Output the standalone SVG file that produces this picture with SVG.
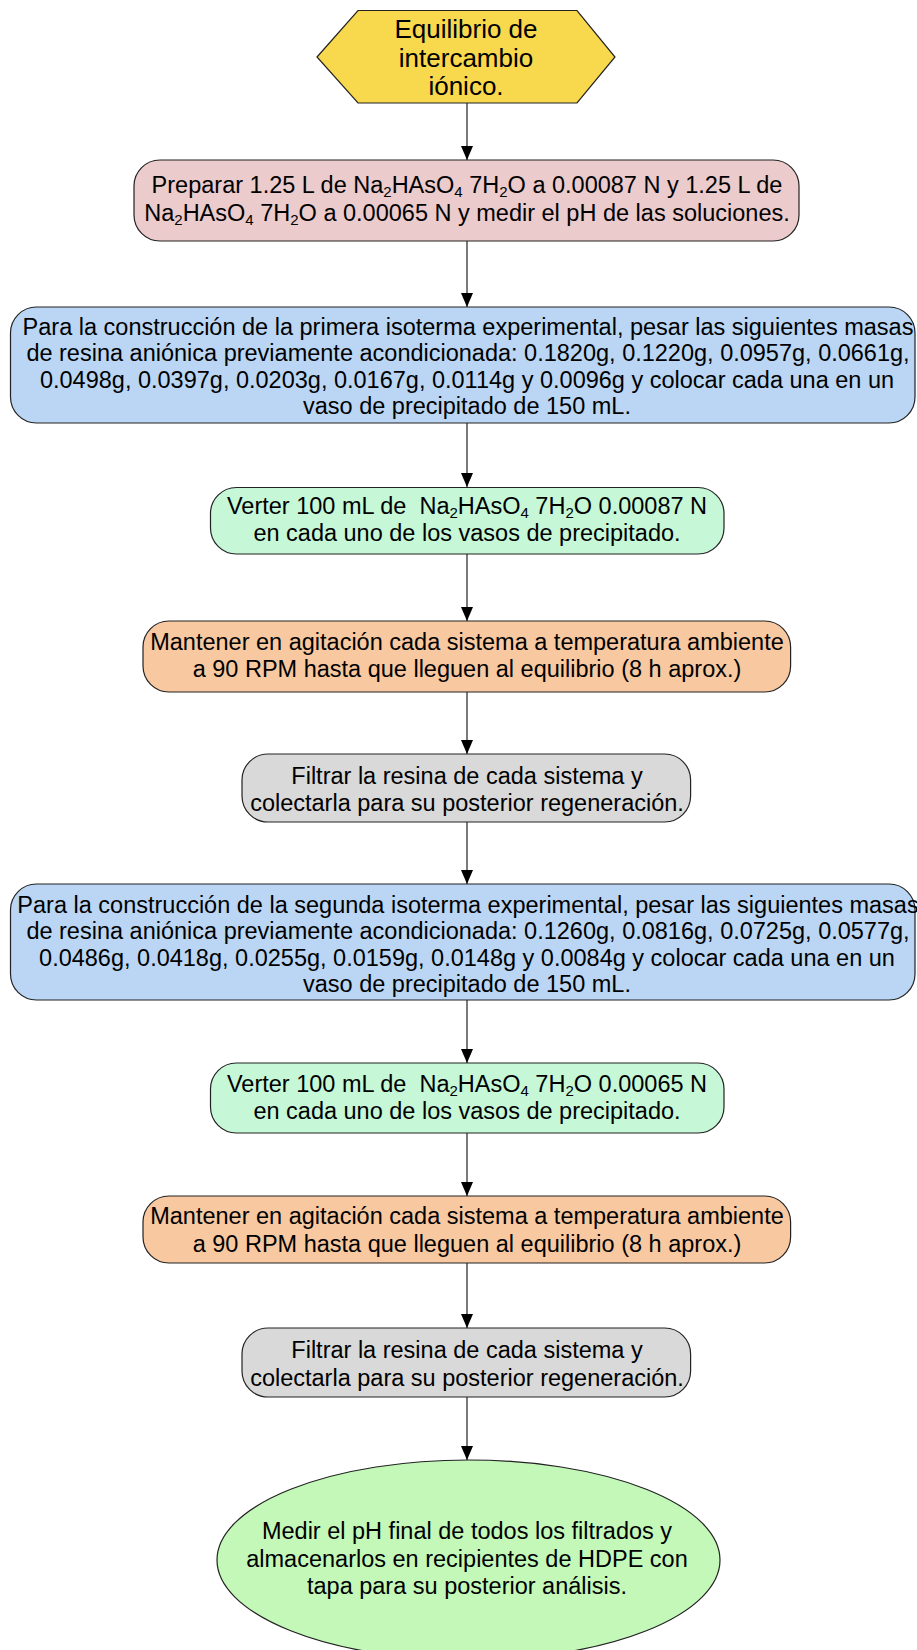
<svg xmlns="http://www.w3.org/2000/svg" width="917" height="1650" viewBox="0 0 917 1650">
<style>
.t{font-family:"Liberation Sans",Arial,sans-serif;font-size:23.5px;fill:#000;text-anchor:middle}
.h{font-size:26px}
.s{font-size:15px}
.n{stroke:#222;stroke-width:1.2}
.c{stroke:#333;stroke-width:1.3;fill:none}
</style>
<defs>
<marker id="ah" viewBox="0 0 14 12" refX="14" refY="6" markerWidth="14" markerHeight="12" markerUnits="userSpaceOnUse" orient="auto">
<path d="M0,0 L14,6 L0,12 z" fill="#000"/>
</marker>
</defs>
<g id="connectors">
<path class="c" d="M467,103 V160" marker-end="url(#ah)"/>
<path class="c" d="M467,241 V307" marker-end="url(#ah)"/>
<path class="c" d="M467,423 V487" marker-end="url(#ah)"/>
<path class="c" d="M467,554 V621" marker-end="url(#ah)"/>
<path class="c" d="M467,692 V754" marker-end="url(#ah)"/>
<path class="c" d="M467,822 V884" marker-end="url(#ah)"/>
<path class="c" d="M467,1000 V1063" marker-end="url(#ah)"/>
<path class="c" d="M467,1133 V1196" marker-end="url(#ah)"/>
<path class="c" d="M467,1263 V1328" marker-end="url(#ah)"/>
<path class="c" d="M467,1397 V1460" marker-end="url(#ah)"/>
</g>
<g id="start">
<polygon class="n" fill="#F8D84C" points="317,57 358,10.5 577,10.5 615,57 577,103 358,103"/>
<text class="t h" x="466" y="38">Equilibrio de</text>
<text class="t h" x="466" y="66.5">intercambio</text>
<text class="t h" x="466" y="95">iónico.</text>
</g>
<g id="prep">
<rect class="n" fill="#EBCBCB" x="134" y="160" width="665" height="81" rx="26"/>
<text class="t" x="467" y="193">Preparar 1.25 L de Na<tspan class="s" baseline-shift="-4">2</tspan>HAsO<tspan class="s" baseline-shift="-4">4</tspan> 7H<tspan class="s" baseline-shift="-4">2</tspan>O a 0.00087 N y 1.25 L de</text>
<text class="t" x="467" y="220.5">Na<tspan class="s" baseline-shift="-4">2</tspan>HAsO<tspan class="s" baseline-shift="-4">4</tspan> 7H<tspan class="s" baseline-shift="-4">2</tspan>O a 0.00065 N y medir el pH de las soluciones.</text>
</g>
<g id="iso1">
<rect class="n" fill="#BAD6F4" x="10.5" y="307" width="904.5" height="116" rx="26"/>
<text class="t" x="468" y="335">Para la construcción de la primera isoterma experimental, pesar las siguientes masas</text>
<text class="t" x="468" y="361.3">de resina aniónica previamente acondicionada: 0.1820g, 0.1220g, 0.0957g, 0.0661g,</text>
<text class="t" x="467" y="387.6">0.0498g, 0.0397g, 0.0203g, 0.0167g, 0.0114g y 0.0096g y colocar cada una en un</text>
<text class="t" x="467" y="414">vaso de precipitado de 150 mL.</text>
</g>
<g id="verter1">
<rect class="n" fill="#C6F7D6" x="210.5" y="487.5" width="513.5" height="66.5" rx="26"/>
<text class="t" x="467" y="514" xml:space="preserve">Verter 100 mL de  Na<tspan class="s" baseline-shift="-4">2</tspan>HAsO<tspan class="s" baseline-shift="-4">4</tspan> 7H<tspan class="s" baseline-shift="-4">2</tspan>O 0.00087 N</text>
<text class="t" x="467" y="541.3">en cada uno de los vasos de precipitado.</text>
</g>
<g id="agit1">
<rect class="n" fill="#F8C8A1" x="143" y="621" width="647.6" height="71" rx="26"/>
<text class="t" x="467" y="649.5">Mantener en agitación cada sistema a temperatura ambiente</text>
<text class="t" x="467" y="677">a 90 RPM hasta que lleguen al equilibrio (8 h aprox.)</text>
</g>
<g id="filtrar1">
<rect class="n" fill="#D9D9D9" x="242" y="754" width="448.6" height="68" rx="26"/>
<text class="t" x="467" y="783.5">Filtrar la resina de cada sistema y</text>
<text class="t" x="467" y="810.5">colectarla para su posterior regeneración.</text>
</g>
<g id="iso2">
<rect class="n" fill="#BAD6F4" x="10.5" y="884" width="904.5" height="116" rx="26"/>
<text class="t" x="468" y="913">Para la construcción de la segunda isoterma experimental, pesar las siguientes masas</text>
<text class="t" x="468" y="939.3">de resina aniónica previamente acondicionada: 0.1260g, 0.0816g, 0.0725g, 0.0577g,</text>
<text class="t" x="467" y="965.6">0.0486g, 0.0418g, 0.0255g, 0.0159g, 0.0148g y 0.0084g y colocar cada una en un</text>
<text class="t" x="467" y="992">vaso de precipitado de 150 mL.</text>
</g>
<g id="verter2">
<rect class="n" fill="#C6F7D6" x="210.5" y="1063" width="513.5" height="70" rx="26"/>
<text class="t" x="467" y="1091.5" xml:space="preserve">Verter 100 mL de  Na<tspan class="s" baseline-shift="-4">2</tspan>HAsO<tspan class="s" baseline-shift="-4">4</tspan> 7H<tspan class="s" baseline-shift="-4">2</tspan>O 0.00065 N</text>
<text class="t" x="467" y="1118.5">en cada uno de los vasos de precipitado.</text>
</g>
<g id="agit2">
<rect class="n" fill="#F8C8A1" x="143" y="1196" width="647.6" height="67" rx="26"/>
<text class="t" x="467" y="1223.5">Mantener en agitación cada sistema a temperatura ambiente</text>
<text class="t" x="467" y="1251.5">a 90 RPM hasta que lleguen al equilibrio (8 h aprox.)</text>
</g>
<g id="filtrar2">
<rect class="n" fill="#D9D9D9" x="242" y="1328" width="448.6" height="69" rx="26"/>
<text class="t" x="467" y="1358">Filtrar la resina de cada sistema y</text>
<text class="t" x="467" y="1385.5">colectarla para su posterior regeneración.</text>
</g>
<g id="fin">
<ellipse class="n" fill="#C3F8B8" cx="468.5" cy="1560" rx="251.5" ry="100"/>
<text class="t" x="467" y="1539">Medir el pH final de todos los filtrados y</text>
<text class="t" x="467" y="1566.5">almacenarlos en recipientes de HDPE con</text>
<text class="t" x="467" y="1594">tapa para su posterior análisis.</text>
</g>
</svg>
